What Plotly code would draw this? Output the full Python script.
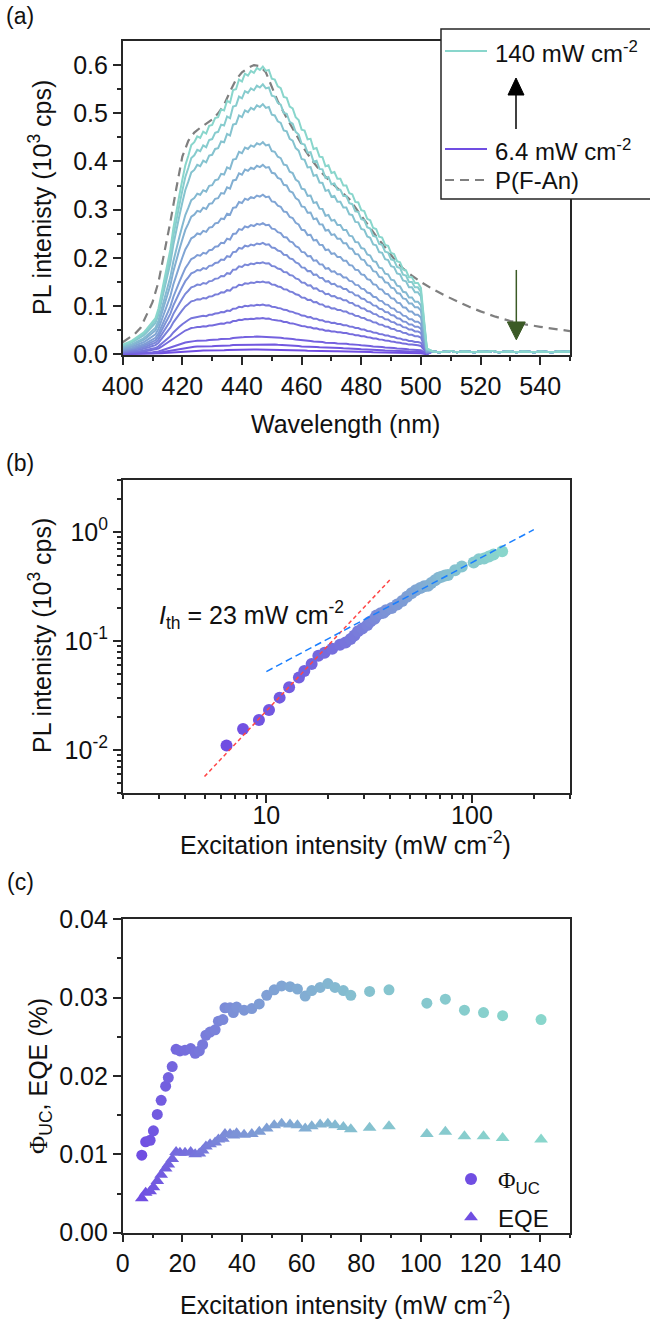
import plotly.graph_objects as go

W, H = 650, 1320

# ---------------- Panel (a) data ----------------
wl_main = list(range(400, 503))
top_spectrum = [
    0.020, 0.022, 0.025, 0.028, 0.032, 0.036, 0.040, 0.045, 0.052, 0.060,
    0.068, 0.075, 0.095, 0.125, 0.160, 0.188, 0.218, 0.262, 0.300, 0.330,
    0.362, 0.392, 0.412, 0.434, 0.440, 0.452, 0.449, 0.462, 0.458, 0.474,
    0.476, 0.490, 0.492, 0.508, 0.506, 0.526, 0.522, 0.548, 0.550, 0.570,
    0.566, 0.582, 0.578, 0.588, 0.584, 0.594, 0.590, 0.597, 0.588, 0.590,
    0.572, 0.570, 0.556, 0.552, 0.534, 0.532, 0.514, 0.510, 0.492, 0.486,
    0.466, 0.464, 0.446, 0.447, 0.426, 0.428, 0.410, 0.409, 0.390, 0.392,
    0.376, 0.378, 0.364, 0.364, 0.350, 0.350, 0.334, 0.332, 0.316, 0.315,
    0.299, 0.297, 0.281, 0.278, 0.262, 0.260, 0.244, 0.242, 0.227, 0.225,
    0.210, 0.208, 0.193, 0.191, 0.176, 0.174, 0.160, 0.160, 0.148, 0.148,
    0.138, 0.075, 0.012,
]
wl_tail = list(range(504, 551, 2))
tail_baseline = [0.006, 0.004, 0.005, 0.007, 0.004, 0.006, 0.005, 0.004,
                 0.006, 0.005, 0.007, 0.004, 0.005, 0.006, 0.004, 0.006,
                 0.005, 0.004, 0.006, 0.005, 0.004, 0.006, 0.005, 0.006]
spectrum_peaks = [0.010, 0.021, 0.037, 0.075, 0.103, 0.151, 0.191, 0.231,
                  0.272, 0.331, 0.393, 0.440, 0.519, 0.560, 0.597]

pfan_wl = [400, 402, 404, 406, 408, 410, 412, 414, 416, 418, 420, 422, 424,
           426, 428, 430, 432, 434, 436, 438, 440, 442, 444, 446, 448, 450,
           452, 455, 458, 461, 464, 467, 470, 473, 476, 479, 482, 485, 488,
           491, 494, 497, 500, 504, 508, 512, 516, 520, 525, 530, 535, 540,
           545, 550]
pfan_val = [0.025, 0.033, 0.042, 0.055, 0.080, 0.108, 0.150, 0.210, 0.275,
            0.345, 0.410, 0.443, 0.460, 0.470, 0.478, 0.487, 0.500, 0.518,
            0.545, 0.570, 0.585, 0.594, 0.600, 0.598, 0.585, 0.555, 0.525,
            0.490, 0.456, 0.425, 0.398, 0.375, 0.356, 0.340, 0.322, 0.296,
            0.270, 0.245, 0.222, 0.198, 0.178, 0.163, 0.150, 0.135, 0.122,
            0.110, 0.099, 0.089, 0.078, 0.069, 0.062, 0.057, 0.052, 0.048]

green_arrow_x = 532
green_arrow_y_start = 0.175
green_arrow_y_head = 0.067
green_arrow_y_tip = 0.030

# ---------------- Panels (b), (c) data ----------------
excitation = [6.4, 7.7, 9.2, 10.3, 11.6, 12.9, 14.4, 15.3, 16.6, 17.9, 19.2,
              20.9, 22.8, 24.3, 25.7, 26.8, 27.9, 29.3, 31.0, 32.1, 33.6,
              34.3, 36.0, 37.1, 38.2, 40.7, 43.3, 45.8, 48.3, 50.8, 53.3,
              56.1, 58.6, 61.2, 63.4, 66.2, 68.8, 71.2, 74.0, 76.5, 82.8,
              89.3, 102.0, 108.2, 114.6, 121.0, 127.4, 140.3]
pl_intensity = [0.0110, 0.0156, 0.0188, 0.0232, 0.0302, 0.0376, 0.0462,
                0.0530, 0.0615, 0.0730, 0.0778, 0.0850, 0.0925, 0.0966,
                0.1040, 0.1120, 0.1225, 0.1300, 0.1400, 0.1510, 0.1600,
                0.1710, 0.1800, 0.1815, 0.1915, 0.2010, 0.2160, 0.2330,
                0.2550, 0.2745, 0.2920, 0.3065, 0.3170, 0.3215, 0.3410,
                0.3605, 0.3805, 0.3880, 0.3980, 0.4035, 0.4450, 0.4830,
                0.5250, 0.5620, 0.5700, 0.5960, 0.6200, 0.6640]
phi_uc = [0.0099, 0.0116, 0.0118, 0.0130, 0.0151, 0.0169, 0.0187, 0.0198,
          0.0212, 0.0234, 0.0232, 0.0233, 0.0235, 0.0229, 0.0232, 0.0240,
          0.0252, 0.0256, 0.0259, 0.0270, 0.0272, 0.0287, 0.0287, 0.0281,
          0.0288, 0.0284, 0.0286, 0.0292, 0.0303, 0.0310, 0.0315, 0.0314,
          0.0311, 0.0302, 0.0309, 0.0313, 0.0318, 0.0313, 0.0309, 0.0303,
          0.0308, 0.0310, 0.0293, 0.0298, 0.0284, 0.0281, 0.0277, 0.0272]
eqe = [0.0044, 0.0051, 0.0053, 0.0058, 0.0066, 0.0074, 0.0082, 0.0087,
       0.0094, 0.0103, 0.0102, 0.0102, 0.0103, 0.0100, 0.0101, 0.0105,
       0.0110, 0.0113, 0.0115, 0.0119, 0.0120, 0.0126, 0.0126, 0.0124,
       0.0127, 0.0125, 0.0126, 0.0129, 0.0133, 0.0137, 0.0139, 0.0138,
       0.0137, 0.0133, 0.0136, 0.0138, 0.0139, 0.0137, 0.0135, 0.0132,
       0.0134, 0.0136, 0.0126, 0.0129, 0.0123, 0.0123, 0.0121, 0.0119]

fit_low_x = [5.0, 40.0]
fit_low_y = [0.0057, 0.365]
fit_high_x = [10.0, 200.0]
fit_high_y = [0.0524, 1.05]

# ---------------- styling ----------------
C0 = (112, 78, 226)
C1 = (137, 214, 204)


def mix(t):
    r = round(C0[0] + (C1[0] - C0[0]) * t)
    g = round(C0[1] + (C1[1] - C0[1]) * t)
    b = round(C0[2] + (C1[2] - C0[2]) * t)
    return f"rgb({r},{g},{b})"


FONT = "Liberation Sans, Arial, sans-serif"
AX = "#262626"
TICK_SIZE = 25
TITLE_SIZE = 25
TF = dict(size=TICK_SIZE, color="#111", family=FONT)


def px_x(p):
    return p / W


def px_y(p):
    return 1 - p / H


XD = [122.7 / W, 570 / W]
YA = [px_y(355), px_y(40.5)]
YB = [px_y(793.3), px_y(480)]
YC = [px_y(1232.7), px_y(919.3)]

fig = go.Figure()

# Panel (a) traces
fig.add_trace(go.Scatter(x=pfan_wl, y=pfan_val, mode="lines",
                         line=dict(color="#7f7f7f", width=2.2, dash="9px,6px"),
                         xaxis="x", yaxis="y", showlegend=False))
top_peak = max(top_spectrum)
n_sp = len(spectrum_peaks)
for i, pk in enumerate(spectrum_peaks):
    ys = [v / top_peak * pk for v in top_spectrum] + tail_baseline
    fig.add_trace(go.Scatter(x=wl_main + wl_tail, y=ys, mode="lines",
                             line=dict(color=mix(i / (n_sp - 1)), width=2),
                             xaxis="x", yaxis="y", showlegend=False))

n_pts = len(excitation)
pt_colors = [mix(i / (n_pts - 1)) for i in range(n_pts)]

# Panel (b)
fig.add_trace(go.Scatter(x=excitation, y=pl_intensity, mode="markers",
                         marker=dict(color=pt_colors, size=12, symbol="circle"),
                         xaxis="x2", yaxis="y2", showlegend=False))
fig.add_trace(go.Scatter(x=fit_low_x, y=fit_low_y, mode="lines",
                         line=dict(color="#ff4545", width=1.5, dash="4px,3px"),
                         xaxis="x2", yaxis="y2", showlegend=False))
fig.add_trace(go.Scatter(x=fit_high_x, y=fit_high_y, mode="lines",
                         line=dict(color="#1a7fff", width=1.5, dash="7px,4px"),
                         xaxis="x2", yaxis="y2", showlegend=False))

# Panel (c)
fig.add_trace(go.Scatter(x=excitation, y=phi_uc, mode="markers",
                         name='<span style="font-family:Liberation Serif">Φ</span><sub>UC</sub>',
                         marker=dict(color=pt_colors, size=11, symbol="circle"),
                         xaxis="x3", yaxis="y3", legendgroup="a"))
fig.add_trace(go.Scatter(x=excitation, y=eqe, mode="markers", name="EQE",
                         marker=dict(color=pt_colors, size=12, symbol="triangle-up"),
                         xaxis="x3", yaxis="y3", legendgroup="b"))


def axis(**kw):
    d = dict(showline=True, linecolor=AX, linewidth=1.5, mirror=True,
             ticks="outside", ticklen=8, tickwidth=1.5, tickcolor=AX,
             showgrid=False, zeroline=False, tickfont=TF, automargin=False)
    d.update(kw)
    return d


def minor(vals):
    return dict(tickvals=vals, ticks="outside", ticklen=4, tickwidth=1.5,
                tickcolor=AX, showgrid=False)


a_xt = list(range(400, 541, 20))
a_yt = [0.0, 0.1, 0.2, 0.3, 0.4, 0.5, 0.6]
b_xt = [10, 100]
b_yt = [0.01, 0.1, 1]
c_xt = list(range(0, 141, 20))
c_yt = [0.0, 0.01, 0.02, 0.03, 0.04]

fig.update_layout(
    width=W, height=H, margin=dict(l=0, r=0, t=0, b=0, autoexpand=False),
    paper_bgcolor="white", plot_bgcolor="white",
    font=dict(family=FONT, size=TICK_SIZE, color="#111"),
    xaxis=axis(domain=XD, anchor="y", range=[400, 550], tickvals=a_xt,
               ticktext=[str(v) for v in a_xt],
               minor=minor(list(range(410, 551, 20)))),
    yaxis=axis(domain=YA, anchor="x", range=[-0.0015, 0.651], tickvals=a_yt,
               ticktext=[f"{v:.1f}" for v in a_yt],
               minor=minor([0.05, 0.15, 0.25, 0.35, 0.45, 0.55])),
    xaxis2=axis(domain=XD, anchor="y2", type="log",
                range=[0.30103, 2.47712], tickvals=b_xt,
                ticktext=["10", "100"], ticklabelstandoff=-9,
                minor=minor([2, 3, 4, 5, 6, 7, 8, 9, 20, 30, 40, 50, 60, 70,
                             80, 90, 200, 300])),
    yaxis2=axis(domain=YB, anchor="x2", type="log",
                range=[-2.39794, 0.4771], tickvals=b_yt,
                ticktext=["10<sup>-2</sup>", "10<sup>-1</sup>", "10<sup>0</sup>"],
                minor=minor([0.004, 0.005, 0.006, 0.007, 0.008, 0.009,
                             0.02, 0.03, 0.04, 0.05, 0.06, 0.07, 0.08, 0.09,
                             0.2, 0.3, 0.4, 0.5, 0.6, 0.7, 0.8, 0.9, 2, 3])),
    xaxis3=axis(domain=XD, anchor="y3", range=[0, 150], tickvals=c_xt,
                ticktext=[str(v) for v in c_xt],
                minor=minor(list(range(10, 151, 20)))),
    yaxis3=axis(domain=YC, anchor="x3", range=[0, 0.04], tickvals=c_yt,
                ticktext=[f"{v:.2f}" for v in c_yt],
                minor=minor([0.005, 0.015, 0.025, 0.035])),
    legend=dict(x=px_x(444), y=px_y(1157), xanchor="left", yanchor="top",
                bgcolor="rgba(0,0,0,0)", font=dict(size=24, family=FONT, color="#111"),
                itemsizing="constant", itemwidth=44, tracegroupgap=4),
)

ann = []


def text(x, y, s, size=TITLE_SIZE, angle=0, xanchor="center"):
    ann.append(dict(x=px_x(x), y=px_y(y), xref="paper", yref="paper", text=s,
                    showarrow=False, textangle=angle, xanchor=xanchor,
                    yanchor="middle", font=dict(size=size, family=FONT, color="#111")))


ytitle = "PL intenisty (10<sup>3</sup> cps)"
text(40, 198, ytitle, angle=-90)
text(40, 636, ytitle, angle=-90)
text(40, 1076, '<span style="font-family:Liberation Serif">Φ</span><sub>UC</sub>, EQE (%)', angle=-90)
text(346, 424, "Wavelength (nm)")
text(346, 843, "Excitation intensity (mW cm<sup>-2</sup>)")
text(346, 1303, "Excitation intensity (mW cm<sup>-2</sup>)")
text(20, 16, "(a)", size=23)
text(20, 463, "(b)", size=23)
text(20, 882, "(c)", size=23)
text(157, 615, "<i>I</i><sub>th</sub> = 23 mW cm<sup>-2</sup>", xanchor="left")
# legend of panel (a)
text(493, 52, "140 mW cm<sup>-2</sup>", size=24, xanchor="left")
text(493, 150, "6.4 mW cm<sup>-2</sup>", size=24, xanchor="left")
text(493, 181, "P(F-An)", size=24, xanchor="left")

shapes = [
    dict(type="rect", xref="paper", yref="paper", x0=px_x(441), x1=px_x(660),
         y0=px_y(199), y1=px_y(29), fillcolor="white",
         line=dict(color=AX, width=1.5), layer="above"),
    dict(type="line", xref="paper", yref="paper", x0=px_x(445), x1=px_x(487),
         y0=px_y(51), y1=px_y(51), line=dict(color=mix(1), width=2), layer="above"),
    dict(type="line", xref="paper", yref="paper", x0=px_x(445), x1=px_x(487),
         y0=px_y(149), y1=px_y(149), line=dict(color=mix(0), width=2), layer="above"),
    dict(type="line", xref="paper", yref="paper", x0=px_x(445), x1=px_x(487),
         y0=px_y(180), y1=px_y(180),
         line=dict(color="#7f7f7f", width=2, dash="9px,6px"), layer="above"),
    dict(type="line", xref="paper", yref="paper", x0=px_x(516), x1=px_x(516),
         y0=px_y(129), y1=px_y(94), line=dict(color="black", width=1.5), layer="above"),
    dict(type="path", xref="paper", yref="paper",
         path=f"M {px_x(508)},{px_y(95)} L {px_x(524)},{px_y(95)} L {px_x(516)},{px_y(78)} Z",
         fillcolor="black", line=dict(color="black", width=1), layer="above"),
    # green arrow in panel (a)
    dict(type="line", xref="x", yref="y", x0=green_arrow_x, x1=green_arrow_x,
         y0=green_arrow_y_start, y1=green_arrow_y_head,
         line=dict(color="#3b5a26", width=1.5), layer="above"),
    dict(type="path", xref="x", yref="y",
         path=(f"M {green_arrow_x - 3},{green_arrow_y_head} "
               f"L {green_arrow_x + 3},{green_arrow_y_head} "
               f"L {green_arrow_x},{green_arrow_y_tip} Z"),
         fillcolor="#3b5a26", line=dict(color="#3b5a26", width=1), layer="above"),
]

fig.update_layout(annotations=ann, shapes=shapes)
fig.write_html("out.html",
               config={"displayModeBar": False},
               post_script="document.body.style.margin='0px';"
                           "document.body.style.overflow='hidden';")
